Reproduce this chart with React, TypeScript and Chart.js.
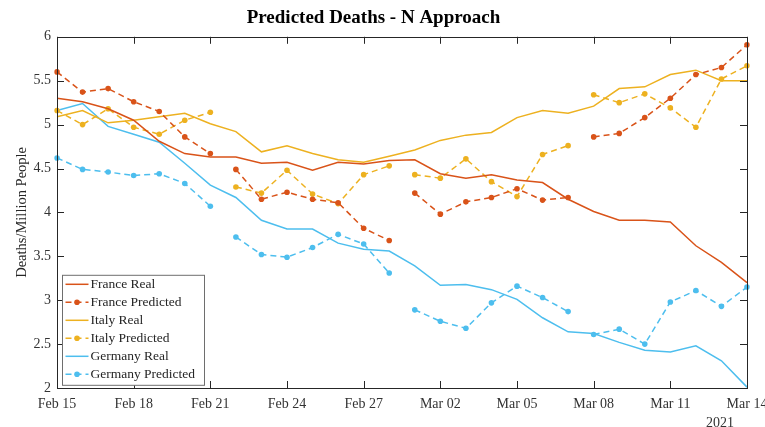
import React, { useEffect, useRef } from "react";
import { Chart, registerables } from "chart.js";

Chart.register(...registerables);

const dates = [
  "Feb 15", "Feb 16", "Feb 17", "Feb 18", "Feb 19", "Feb 20", "Feb 21",
  "Feb 22", "Feb 23", "Feb 24", "Feb 25", "Feb 26", "Feb 27", "Feb 28",
  "Mar 01", "Mar 02", "Mar 03", "Mar 04", "Mar 05", "Mar 06", "Mar 07",
  "Mar 08", "Mar 09", "Mar 10", "Mar 11", "Mar 12", "Mar 13", "Mar 14",
];
const tickEvery = 3;
const yearLabel = "2021";

const franceReal = [5.30, 5.26, 5.18, 5.05, 4.81, 4.67, 4.63, 4.63, 4.56, 4.57, 4.48, 4.57, 4.55, 4.59,
  4.60, 4.44, 4.39, 4.43, 4.37, 4.34, 4.15, 4.01, 3.91, 3.91, 3.89, 3.62, 3.43, 3.20];
const francePred = [5.60, 5.37, 5.41, 5.26, 5.15, 4.86, 4.67, 4.49, 4.15, 4.23, 4.15, 4.11, 3.82, 3.68,
  4.22, 3.98, 4.12, 4.17, 4.27, 4.14, 4.17, 4.86, 4.90, 5.08, 5.30, 5.57, 5.65, 5.91];
const italyReal = [5.09, 5.16, 5.02, 5.05, 5.09, 5.13, 5.01, 4.92, 4.69, 4.76, 4.67, 4.60, 4.57, 4.64,
  4.71, 4.82, 4.88, 4.91, 5.08, 5.16, 5.13, 5.21, 5.41, 5.43, 5.57, 5.62, 5.50, 5.50];
const italyPred = [5.16, 5.00, 5.18, 4.97, 4.89, 5.05, 5.14, 4.29, 4.22, 4.48, 4.21, 4.10, 4.43, 4.53,
  4.43, 4.39, 4.61, 4.35, 4.18, 4.66, 4.76, 5.34, 5.25, 5.35, 5.19, 4.97, 5.52, 5.67];
const germanyReal = [5.16, 5.24, 4.98, 4.89, 4.80, 4.56, 4.31, 4.17, 3.91, 3.81, 3.81, 3.65, 3.58, 3.56,
  3.39, 3.17, 3.18, 3.12, 3.01, 2.80, 2.64, 2.62, 2.52, 2.43, 2.41, 2.48, 2.31, 2.01];
const germanyPred = [4.62, 4.49, 4.46, 4.42, 4.44, 4.33, 4.07, 3.72, 3.52, 3.49, 3.60, 3.75, 3.64, 3.31,
  2.89, 2.76, 2.68, 2.97, 3.16, 3.03, 2.87, 2.61, 2.67, 2.50, 2.98, 3.11, 2.93, 3.15];
// prediction windows end after these indices (gap follows)
const predBreaks = [6, 13, 20];

const FONT = "'Liberation Serif', 'Times New Roman', serif";
const C_FR = "#D95319";
const C_IT = "#EDB120";
const C_DE = "#4DBEEE";

function realSet(label: string, data: number[], color: string) {
  return {
    label, data, borderColor: color, backgroundColor: color,
    borderWidth: 1.5, pointRadius: 0, tension: 0, fill: false,
  };
}
function predSet(label: string, data: number[], color: string) {
  return {
    label, data, borderColor: color, backgroundColor: color,
    borderWidth: 1.5, borderDash: [6, 4], pointRadius: 2.8, pointBorderWidth: 0,
    pointHoverRadius: 2.8, tension: 0, fill: false,
    segment: {
      borderColor: (ctx: any) => (predBreaks.includes(ctx.p0DataIndex) ? "rgba(0,0,0,0)" : color),
    },
  };
}

const framePlugin = {
  id: "frame",
  afterDraw(chart: any) {
    const { ctx, chartArea: a, scales } = chart;
    const x = scales.x, y = scales.y;
    ctx.save();
    ctx.strokeStyle = "#262626";
    ctx.lineWidth = 1;
    ctx.strokeRect(Math.round(a.left) + 0.5, Math.round(a.top) + 0.5, Math.round(a.right - a.left), Math.round(a.bottom - a.top));
    const tl = 7;
    ctx.beginPath();
    for (let i = 0; i < dates.length; i += tickEvery) {
      const px = Math.round(x.getPixelForValue(i)) + 0.5;
      ctx.moveTo(px, a.bottom); ctx.lineTo(px, a.bottom - tl);
      ctx.moveTo(px, a.top); ctx.lineTo(px, a.top + tl);
    }
    for (const t of y.ticks) {
      const py = Math.round(y.getPixelForValue(t.value)) + 0.5;
      ctx.moveTo(a.left, py); ctx.lineTo(a.left + tl, py);
      ctx.moveTo(a.right, py); ctx.lineTo(a.right - tl, py);
    }
    ctx.stroke();

    // year label
    ctx.fillStyle = "#333";
    ctx.font = `14px ${FONT}`;
    ctx.textAlign = "center";
    ctx.textBaseline = "middle";
    ctx.fillText(yearLabel, a.right - 27, a.bottom + 35);

    // legend
    const lx = a.left + 5.5, ly = a.top + 238.5, lw = 142, rowH = 18;
    const n = chart.data.datasets.length;
    const lh = n * rowH + 2;
    ctx.fillStyle = "#fff";
    ctx.fillRect(lx, ly, lw, lh);
    ctx.strokeStyle = "#6e6e6e";
    ctx.lineWidth = 1;
    ctx.strokeRect(lx, ly, lw, lh);
    chart.data.datasets.forEach((ds: any, i: number) => {
      const cy = ly + 9 + i * rowH;
      ctx.strokeStyle = ds.borderColor;
      ctx.lineWidth = 1.5;
      ctx.setLineDash(ds.borderDash || []);
      ctx.beginPath();
      ctx.moveTo(lx + 3, cy); ctx.lineTo(lx + 26, cy);
      ctx.stroke();
      ctx.setLineDash([]);
      if (ds.pointRadius > 0) {
        ctx.fillStyle = ds.borderColor;
        ctx.beginPath();
        ctx.arc(lx + 14.5, cy, 2.8, 0, Math.PI * 2);
        ctx.fill();
      }
      ctx.fillStyle = "#262626";
      ctx.font = `13.5px ${FONT}`;
      ctx.textAlign = "left";
      ctx.textBaseline = "middle";
      ctx.fillText(ds.label, lx + 28, cy + 0.5);
    });
    ctx.restore();
  },
};

export default function App() {
  const ref = useRef<HTMLCanvasElement | null>(null);
  useEffect(() => {
    if (!ref.current) return;
    const chart = new Chart(ref.current, {
      type: "line",
      data: {
        labels: dates,
        datasets: [
          realSet("France Real", franceReal, C_FR),
          predSet("France Predicted", francePred, C_FR),
          realSet("Italy Real", italyReal, C_IT),
          predSet("Italy Predicted", italyPred, C_IT),
          realSet("Germany Real", germanyReal, C_DE),
          predSet("Germany Predicted", germanyPred, C_DE),
        ] as any,
      },
      options: {
        animation: false,
        responsive: false,
        maintainAspectRatio: false,
        layout: { padding: { left: 0, right: 18, top: 0, bottom: 0 } },
        plugins: {
          legend: { display: false },
          tooltip: { enabled: false },
          title: {
            display: true,
            text: "Predicted Deaths - N Approach",
            color: "#000",
            font: { family: FONT, size: 19, weight: "bold" },
            padding: { top: 7, bottom: 7 },
          },
        },
        scales: {
          x: {
            type: "category",
            grid: { display: false, drawTicks: false },
            border: { display: false },
            ticks: {
              autoSkip: false,
              maxRotation: 0,
              padding: 8,
              color: "#333",
              font: { family: FONT, size: 14 },
              callback: (_v: any, i: number) => (i % tickEvery === 0 ? dates[i] : ""),
            },
            afterFit: (s: any) => { s.height = 39; s.paddingLeft = 0; s.paddingRight = 0; },
          },
          y: {
            min: 2,
            max: 6,
            grid: { display: false, drawTicks: false },
            border: { display: false },
            ticks: {
              stepSize: 0.5,
              padding: 6,
              color: "#333",
              font: { family: FONT, size: 14 },
              callback: (v: any) => String(Number(v)),
            },
            title: {
              display: true,
              text: "Deaths/Million People",
              color: "#262626",
              font: { family: FONT, size: 14.5 },
              padding: { top: 13, bottom: 0 },
            },
            afterFit: (s: any) => { s.width = 57; s.paddingTop = 0; s.paddingBottom = 0; },
          },
        },
      },
      plugins: [framePlugin],
    });
    return () => chart.destroy();
  }, []);
  return (
    <div style={{ position: "fixed", left: 0, top: 0, width: 765, height: 427, background: "#fff" }}>
      <canvas ref={ref} width={765} height={427} style={{ width: 765, height: 427 }} />
    </div>
  );
}
